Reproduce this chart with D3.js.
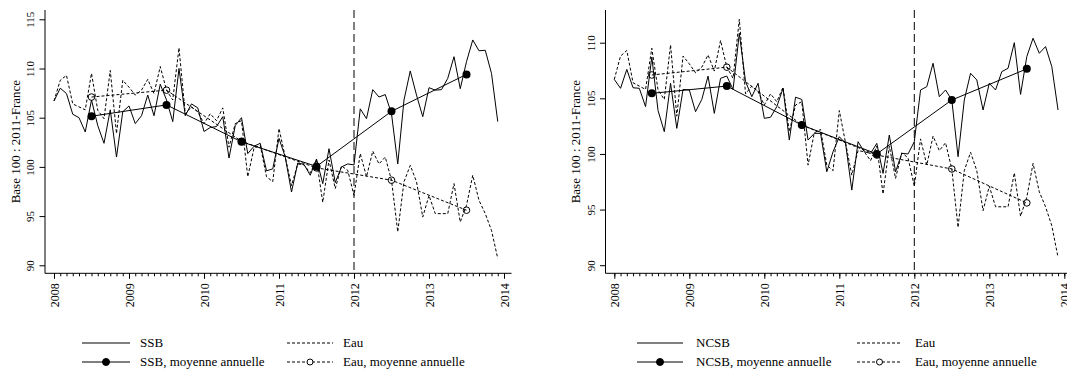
<!DOCTYPE html>
<html>
<head>
<meta charset="utf-8">
<script src="https://cdn.jsdelivr.net/npm/d3@7"></script>
<style>
  body { margin: 0; background: #fff; }
  svg { display: block; font-family: "Liberation Serif", "Times New Roman", serif; }
</style>
</head>
<body>
<svg id="chart" width="1067" height="369"></svg>
<script>
// monthly series, Jan 2008 .. Dec 2013 (base 100 : 2011-France)
const ssb = [
  106.7, 108.0, 107.45, 105.35, 105.0, 103.55, 106.8, 104.2, 102.4, 105.8, 101.0, 105.6,
  106.2, 104.4, 105.2, 107.3, 105.2, 108.4, 106.8, 104.6, 110.0, 105.2, 106.4, 106.0,
  103.6, 104.0, 104.1, 105.1, 100.9, 104.2, 105.0, 101.35, 102.1, 102.4, 99.6, 99.8,
  102.9, 101.0, 97.45, 100.4, 100.25, 99.15, 100.8, 98.3, 101.85, 98.4, 100.0, 100.3,
  100.2, 105.9, 104.9, 107.85, 107.1, 107.35, 105.4, 100.3, 106.8, 109.75, 107.3, 105.1,
  108.05, 107.8, 107.85, 109.0, 111.2, 107.95, 110.7, 112.9, 111.8, 111.85, 109.5, 104.6
];
const ncsb = [
  106.7, 105.9, 107.6, 105.95, 105.9, 104.25, 108.7, 103.9, 102.0, 106.35, 102.3, 105.8,
  105.75, 103.8, 104.9, 107.0, 103.65, 106.8, 107.0, 105.8, 110.85, 106.5, 105.15, 106.35,
  103.2, 103.3, 104.25, 105.9, 101.25, 105.1, 104.9, 101.25, 101.85, 101.85, 98.4, 100.2,
  101.55, 100.95, 96.75, 101.1, 100.2, 100.05, 100.95, 98.25, 101.7, 98.4, 100.05, 100.0,
  101.1, 105.75, 106.05, 108.15, 105.15, 105.75, 104.85, 99.75, 104.85, 107.25, 106.65, 103.95,
  106.35, 105.75, 107.4, 107.7, 110.0, 105.35, 108.75, 110.4, 109.05, 109.65, 107.85, 103.95
];
const eau = [
  106.7, 108.8, 109.3, 106.4, 106.1, 105.8, 109.5, 105.75, 104.9, 109.8, 103.4, 108.8,
  108.1, 107.3, 107.8, 108.9, 107.45, 110.2, 107.8, 106.8, 112.1, 105.4, 106.1, 105.6,
  104.4, 105.4, 104.7, 106.0, 102.0, 104.4, 104.7, 99.0, 101.9, 102.2, 99.0, 98.5,
  103.9, 101.0, 98.1, 100.3, 100.2, 99.4, 100.7, 96.4, 100.7, 97.8, 100.1, 99.65,
  97.1, 101.35, 99.0, 101.6, 100.3, 101.0, 98.65, 93.4, 98.5, 100.15, 98.5, 94.9,
  97.1, 95.25, 95.25, 95.25, 98.3, 94.4, 96.1, 99.15, 96.6, 95.25, 93.55, 90.7
];

// annual means, plotted mid-year
const years = [2008, 2009, 2010, 2011, 2012, 2013];
const ssbAnnual = [105.15, 106.3, 102.55, 100.05, 105.65, 109.4];
const ncsbAnnual = [105.45, 106.1, 102.6, 100.0, 104.85, 107.65];
const eauAnnual = [107.1, 107.8, 102.6, 99.9, 98.65, 95.6];

const xTicks = [2008, 2009, 2010, 2011, 2012, 2013, 2014];
const yTicksLeft = [90, 95, 100, 105, 110, 115];
const yTicksRight = [90, 95, 100, 105, 110];
const breakYear = 2012;
const yTitle = "Base 100 : 2011-France";

const svg = d3.select("#chart");
const serif = '"Liberation Serif", "Times New Roman", serif';

const panels = [
  { name: "SSB", series: ssb, annual: ssbAnnual, yTicks: yTicksLeft,
    axisX: 45, boxRight: 511.5, xr: [54, 504], yd: [90, 115], yr: [265.3, 19.3],
    leg: { l1: 82, l2: 130, t1: 140, r1: 287, r2: 333, t2: 343 } },
  { name: "NCSB", series: ncsb, annual: ncsbAnnual, yTicks: yTicksRight,
    axisX: 605.5, boxRight: 1071, xr: [614.3, 1064.3], yd: [90, 110], yr: [265.2, 42.7],
    leg: { l1: 637, l2: 683, t1: 696, r1: 857, r2: 902, t2: 915 } }
];

const plotTop = 10, plotBottom = 273.3;
const months = d3.range(ssb.length).map(i => 2008 + i / 12);

panels.forEach(p => {
  const g = svg.append("g");
  const x = d3.scaleLinear().domain([2008, 2014]).range(p.xr);
  const y = d3.scaleLinear().domain(p.yd).range(p.yr);

  // L-shaped frame
  g.append("line").attr("x1", p.axisX).attr("x2", p.axisX).attr("y1", plotTop).attr("y2", plotBottom)
    .attr("stroke", "#000");
  g.append("line").attr("x1", p.axisX).attr("x2", p.boxRight).attr("y1", plotBottom).attr("y2", plotBottom)
    .attr("stroke", "#000");

  // x axis: monthly minor ticks + yearly major ticks
  const minor = d3.range(2008 * 12, 2014 * 12 + 1).map(m => m / 12);
  g.append("g").attr("transform", `translate(0,${plotBottom})`)
    .call(d3.axisBottom(x).tickValues(minor).tickSize(3).tickFormat(""))
    .call(a => a.select(".domain").remove());
  const xa = g.append("g").attr("transform", `translate(0,${plotBottom})`)
    .call(d3.axisBottom(x).tickValues(xTicks).tickSize(5.5).tickFormat(d3.format("d")))
    .call(a => a.select(".domain").remove())
    .attr("font-family", serif).attr("font-size", 12);
  xa.selectAll("text")
    .attr("fill", "#000")
    .attr("text-anchor", "end")
    .attr("transform", "translate(0,10) rotate(-90)")
    .attr("x", 0).attr("y", 0).attr("dy", "0.35em");
  g.selectAll(".tick line").attr("stroke", "#000");

  // y axis
  const ya = g.append("g").attr("transform", `translate(${p.axisX},0)`)
    .call(d3.axisLeft(y).tickValues(p.yTicks).tickSize(5.5))
    .call(a => a.select(".domain").remove())
    .attr("font-family", serif).attr("font-size", 11);
  ya.selectAll("line").attr("stroke", "#000");
  ya.selectAll("text")
    .attr("fill", "#000")
    .attr("text-anchor", "middle")
    .attr("x", 0).attr("y", 0).attr("dy", "0.35em")
    .attr("transform", "translate(-14.5,0) rotate(-90)");

  g.append("text")
    .attr("transform", `translate(${p.axisX - 30},${(plotTop + plotBottom) / 2}) rotate(-90)`)
    .attr("text-anchor", "middle").attr("dy", "0.35em")
    .attr("font-size", 13)
    .text(yTitle);

  // monthly lines
  const line = d3.line().x((d, i) => x(months[i])).y(d => y(d));
  g.append("path").datum(eau).attr("d", line)
    .attr("fill", "none").attr("stroke", "#000").attr("stroke-width", 1)
    .attr("stroke-dasharray", "3,2");
  g.append("path").datum(p.series).attr("d", line)
    .attr("fill", "none").attr("stroke", "#000").attr("stroke-width", 1);

  // annual means
  const aline = d3.line().x((d, i) => x(years[i] + 0.5)).y(d => y(d));
  g.append("path").datum(eauAnnual).attr("d", aline)
    .attr("fill", "none").attr("stroke", "#000").attr("stroke-dasharray", "3,2");
  g.selectAll(".eauPt").data(eauAnnual).join("circle")
    .attr("cx", (d, i) => x(years[i] + 0.5)).attr("cy", d => y(d))
    .attr("r", 3.3).attr("fill", "none").attr("stroke", "#000");
  g.append("path").datum(p.annual).attr("d", aline)
    .attr("fill", "none").attr("stroke", "#000");
  g.selectAll(".ssbPt").data(p.annual).join("circle")
    .attr("cx", (d, i) => x(years[i] + 0.5)).attr("cy", d => y(d))
    .attr("r", 4).attr("fill", "#000");

  // break line at 2012
  g.append("line")
    .attr("x1", x(breakYear)).attr("x2", x(breakYear))
    .attr("y1", plotTop).attr("y2", plotBottom)
    .attr("stroke", "#000").attr("stroke-dasharray", "8,4");

  // legend
  const L = p.leg, rows = [343, 362];
  const legItems = [
    { x1: L.l1, x2: L.l2, tx: L.t1, y: rows[0], dash: null, pt: null, label: p.name },
    { x1: L.l1, x2: L.l2, tx: L.t1, y: rows[1], dash: null, pt: "filled", label: p.name + ", moyenne annuelle" },
    { x1: L.r1, x2: L.r2, tx: L.t2, y: rows[0], dash: "3,2", pt: null, label: "Eau" },
    { x1: L.r1, x2: L.r2, tx: L.t2, y: rows[1], dash: "3,2", pt: "open", label: "Eau, moyenne annuelle" }
  ];
  legItems.forEach(it => {
    g.append("line").attr("x1", it.x1).attr("x2", it.x2).attr("y1", it.y).attr("y2", it.y)
      .attr("stroke", "#000").attr("stroke-dasharray", it.dash);
    if (it.pt) {
      g.append("circle").attr("cx", (it.x1 + it.x2) / 2).attr("cy", it.y)
        .attr("r", it.pt === "filled" ? 3.5 : 3)
        .attr("fill", it.pt === "filled" ? "#000" : "#fff").attr("stroke", "#000");
    }
    g.append("text").attr("x", it.tx).attr("y", it.y).attr("dy", "0.3em")
      .attr("font-size", 13).text(it.label);
  });
});
</script>
</body>
</html>
